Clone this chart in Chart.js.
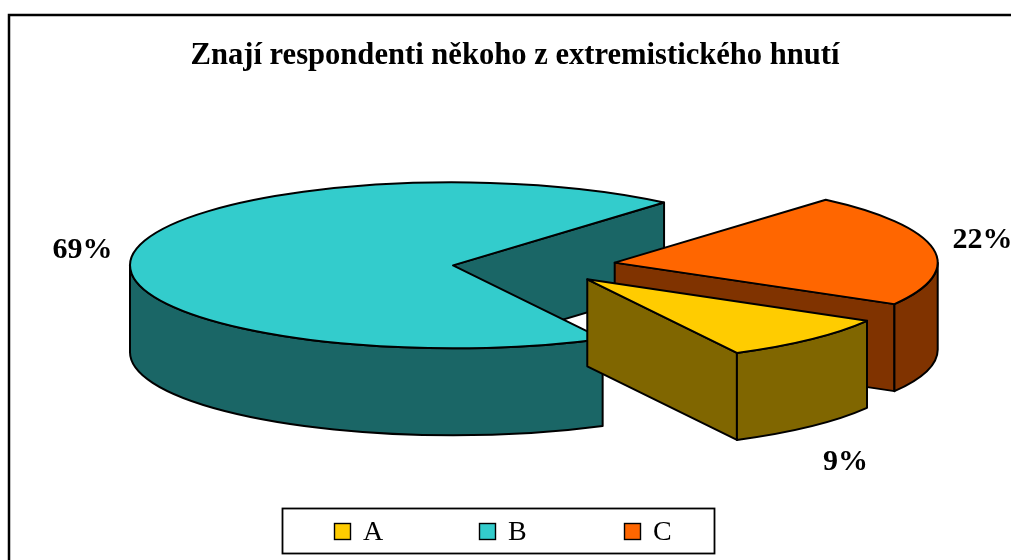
<!DOCTYPE html>
<html lang="cs">
<head>
<meta charset="utf-8">
<title>Znají respondenti někoho z extremistického hnutí</title>
<script src="https://cdn.jsdelivr.net/npm/chart.js@4.4.1/dist/chart.umd.min.js"></script>
<style>
  html, body { margin: 0; padding: 0; background: #fff; }
  .chart-box { position: relative; width: 1011px; height: 560px; }
</style>
</head>
<body>
<div class="chart-box">
  <canvas id="myChart"></canvas>
</div>
<script>
// Data
const categories = ['A', 'B', 'C'];
const values = [9, 69, 22];
const topColors = ['#FFCC00', '#33CCCC', '#FF6600'];
const sideColors = ['#806600', '#1A6666', '#803300'];
const explode = [194, 0, 164];

// Forma 3D del pastel
const RX = 323;
const RY = 83;
const DEPTH = 87;
const EXPLODE_TILT = 0.1;
const drawOrder = [1, 2, 0]; // de atrás hacia delante

const serif = '"Liberation Serif", "Times New Roman", serif';

function rim(ax, ay, t, dy) {
  return [ax + RX * Math.cos(t), ay + RY * Math.sin(t) + (dy || 0)];
}

function face(c, pts, fill) {
  c.beginPath();
  c.moveTo(pts[0][0], pts[0][1]);
  for (let i = 1; i < pts.length; i++) c.lineTo(pts[i][0], pts[i][1]);
  c.closePath();
  c.fillStyle = fill;
  c.fill();
  c.stroke();
}

const pie3d = {
  id: 'pie3d',
  beforeDraw(chart) {
    // marco exterior
    const c = chart.ctx;
    c.save();
    c.strokeStyle = '#000';
    c.lineWidth = 2.5;
    c.strokeRect(9, 15, 2000, 2000);
    c.restore();
  },
  beforeDatasetsDraw(chart) {
    const c = chart.ctx;
    const area = chart.chartArea;
    const arcs = chart.getDatasetMeta(0).data;
    const cx = area.left + RX;
    const cy = (area.top + area.bottom) / 2;
    const total = values.reduce((a, b) => a + b, 0);

    c.save();
    c.strokeStyle = '#000';
    c.lineWidth = 2;
    c.lineJoin = 'round';

    drawOrder.forEach((i) => {
      const arc = arcs[i];
      const s = arc.startAngle;
      const e = arc.endAngle;
      const mid = (s + e) / 2;
      const d = arc.options.offset || 0;
      const ax = cx + Math.cos(mid) * d;
      const ay = cy + Math.sin(mid) * d * EXPLODE_TILT;
      const side = sideColors[i];

      // caras de corte
      if (Math.cos(s) < 0) {
        face(c, [[ax, ay], rim(ax, ay, s), rim(ax, ay, s, DEPTH), [ax, ay + DEPTH]], side);
      }
      if (Math.cos(e) > 0) {
        face(c, [[ax, ay], rim(ax, ay, e), rim(ax, ay, e, DEPTH), [ax, ay + DEPTH]], side);
      }

      // pared exterior (solo la parte delantera)
      for (let k = -2; k <= 2; k++) {
        const t0 = Math.max(s, k * 2 * Math.PI);
        const t1 = Math.min(e, k * 2 * Math.PI + Math.PI);
        if (t1 <= t0) continue;
        c.beginPath();
        c.ellipse(ax, ay, RX, RY, 0, t0, t1);
        c.ellipse(ax, ay + DEPTH, RX, RY, 0, t1, t0, true);
        c.closePath();
        c.fillStyle = side;
        c.fill();
        c.stroke();
      }

      // tapa
      c.beginPath();
      c.moveTo(ax, ay);
      c.ellipse(ax, ay, RX, RY, 0, s, e);
      c.closePath();
      c.fillStyle = topColors[i];
      c.fill();
      c.stroke();

      // etiqueta de porcentaje
      const lx = ax + (RX + 50) * Math.cos(mid);
      const ly = ay + (RY + 50) * Math.sin(mid) + (Math.sin(mid) > 0 ? DEPTH : 0);
      c.fillStyle = '#000';
      c.font = 'bold 30px ' + serif;
      c.textAlign = 'center';
      c.textBaseline = 'middle';
      c.fillText(Math.round((values[i] / total) * 100) + '%', lx, ly);
    });
    c.restore();
    return false;
  },
  afterDraw(chart) {
    // leyenda con marco
    const c = chart.ctx;
    c.save();
    c.strokeStyle = '#000';
    c.lineWidth = 1.8;
    c.strokeRect(282.5, 508.5, 432, 45);
    c.font = '28px ' + serif;
    c.textAlign = 'left';
    c.textBaseline = 'middle';
    categories.forEach((label, i) => {
      const x = 334 + i * 145;
      c.fillStyle = topColors[i];
      c.fillRect(x, 523, 17, 17);
      c.lineWidth = 1.4;
      c.strokeRect(x + 0.5, 523.5, 16, 16);
      c.fillStyle = '#000';
      c.fillText(label, x + 29, 533);
    });
    c.restore();
  },
};

const ctx = document.getElementById('myChart').getContext('2d');

const myChart = new Chart(ctx, {
  type: 'pie',
  data: {
    labels: categories,
    datasets: [
      {
        data: values,
        backgroundColor: topColors,
        borderColor: '#000',
        offset: explode,
      },
    ],
  },
  options: {
    responsive: true,
    maintainAspectRatio: false,
    animation: false,
    rotation: 120,
    layout: {
      padding: { left: 130, right: 111, top: 0, bottom: 121 },
    },
    plugins: {
      legend: { display: false },
      tooltip: { enabled: false },
      title: {
        display: true,
        text: 'Znají respondenti někoho z extremistického hnutí',
        color: '#000',
        font: { family: serif, size: 30.6, weight: 'bold' },
        padding: { top: 38, bottom: 17 },
      },
    },
  },
  plugins: [pie3d],
});
</script>
</body>
</html>
